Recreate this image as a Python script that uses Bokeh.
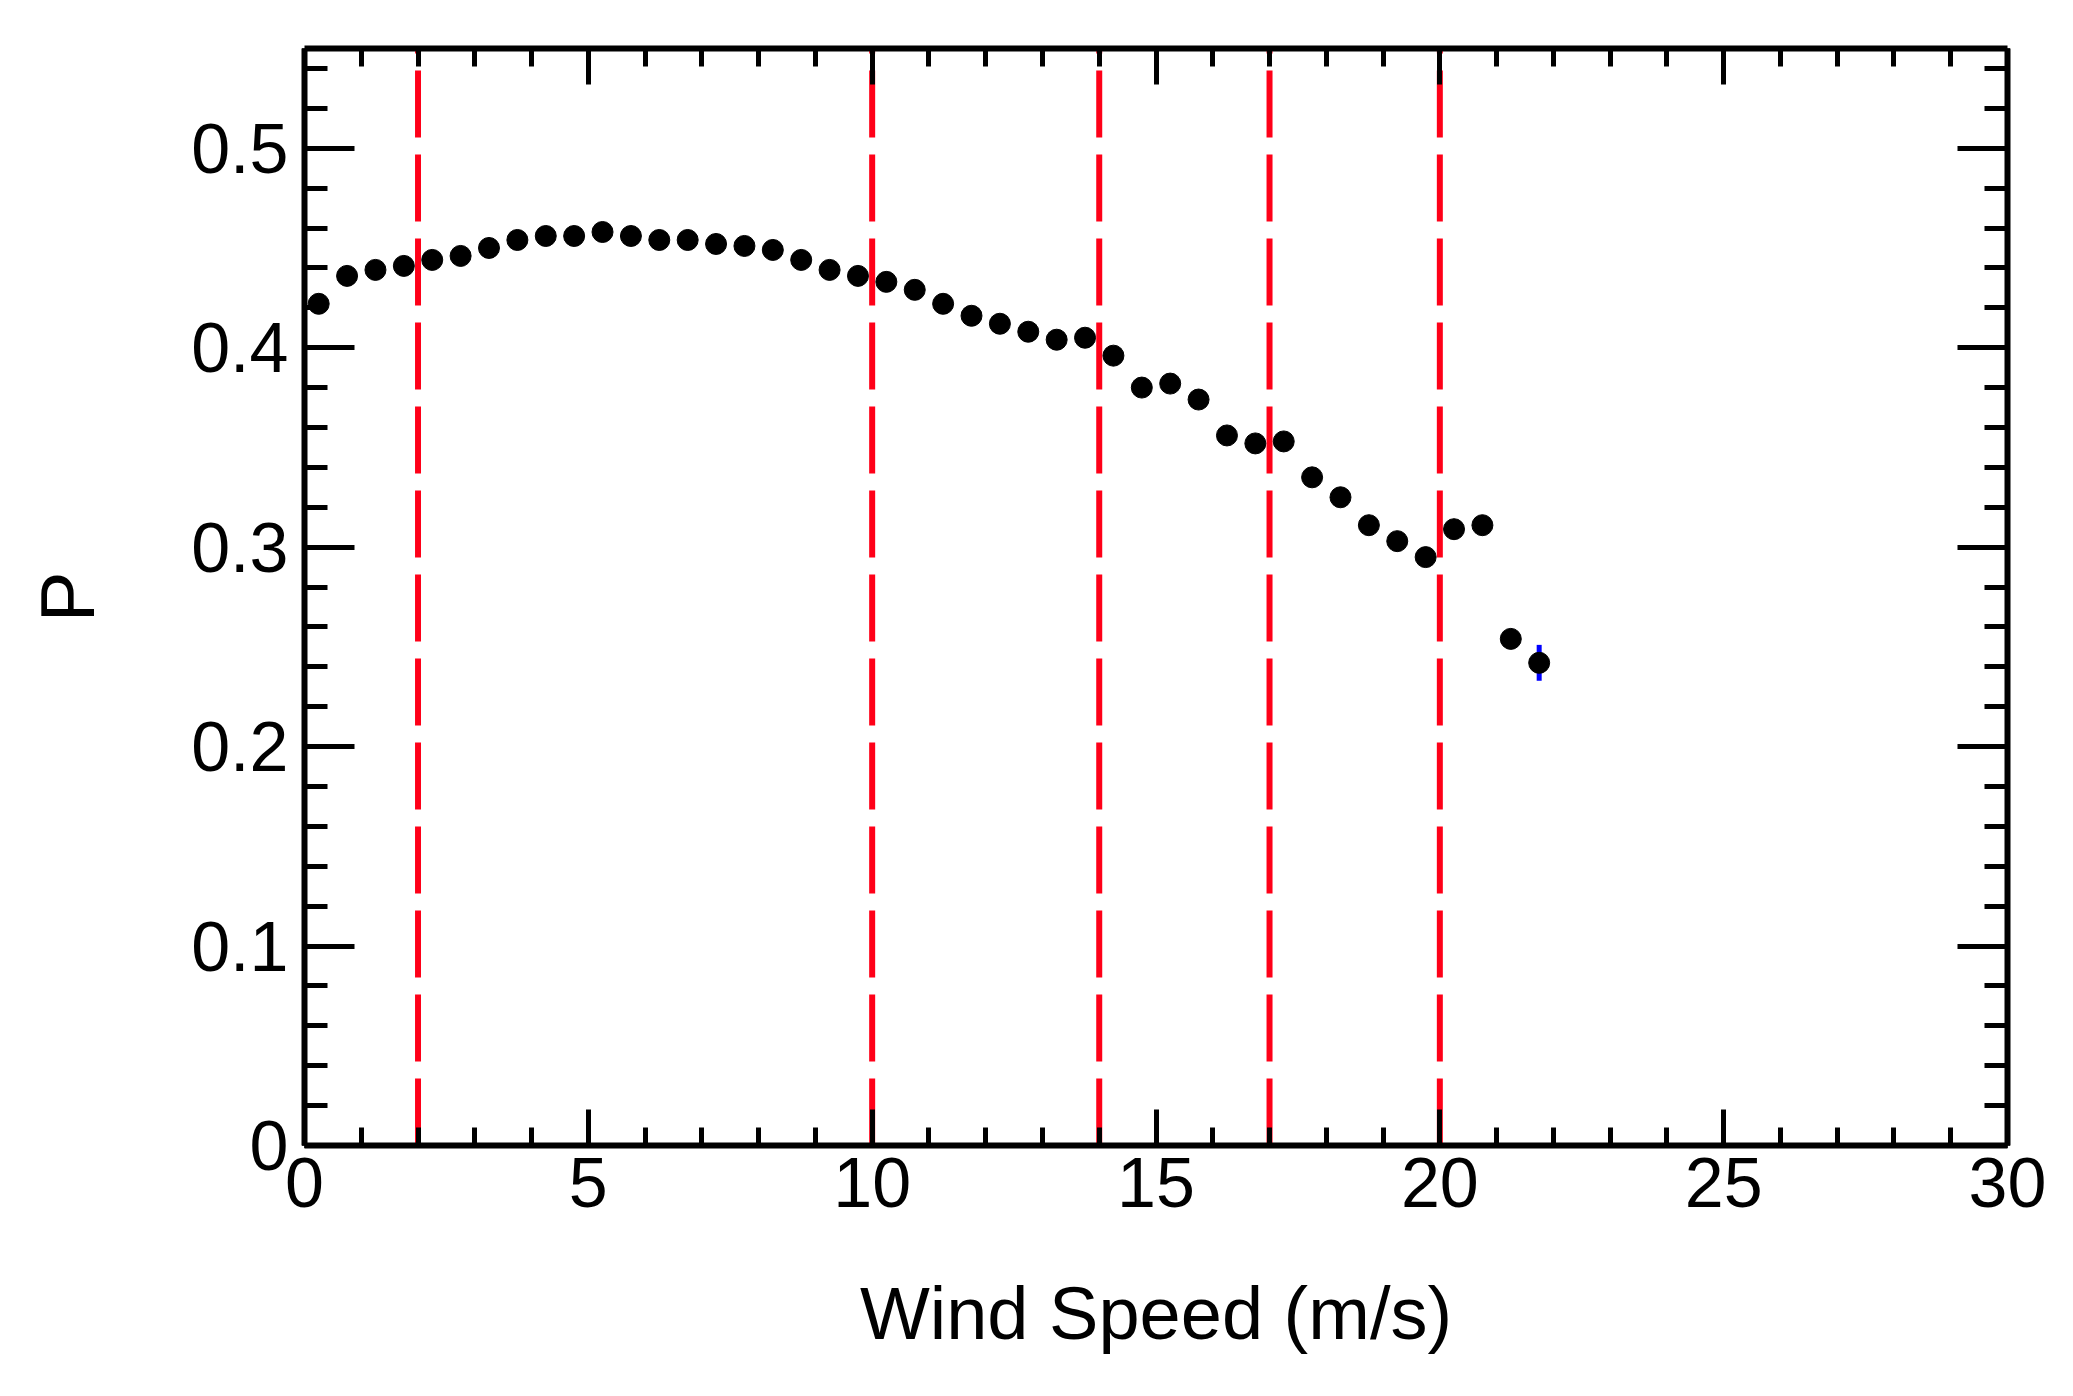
from bokeh.plotting import figure
from bokeh.models import LinearAxis, FixedTicker, Range1d
from bokeh.embed import file_html
from bokeh.resources import INLINE

# ---- data ----
wind_speed = [0.25, 0.75, 1.25, 1.75, 2.25, 2.75, 3.25, 3.75, 4.25, 4.75,
              5.25, 5.75, 6.25, 6.75, 7.25, 7.75, 8.25, 8.75, 9.25, 9.75,
              10.25, 10.75, 11.25, 11.75, 12.25, 12.75, 13.25, 13.75, 14.25, 14.75,
              15.25, 15.75, 16.25, 16.75, 17.25, 17.75, 18.25, 18.75, 19.25, 19.75,
              20.25, 20.75, 21.25, 21.75]
p_values = [0.422, 0.436, 0.439, 0.441, 0.444, 0.446, 0.450, 0.454, 0.456, 0.456,
            0.458, 0.456, 0.454, 0.454, 0.452, 0.451, 0.449, 0.444, 0.439, 0.436,
            0.433, 0.429, 0.422, 0.416, 0.412, 0.408, 0.404, 0.405, 0.396, 0.380,
            0.382, 0.374, 0.356, 0.352, 0.353, 0.335, 0.325, 0.311, 0.303, 0.295,
            0.309, 0.311, 0.254, 0.242]
p_errors = [0.001, 0.001, 0.001, 0.001, 0.001, 0.001, 0.001, 0.001, 0.001, 0.001,
            0.001, 0.001, 0.001, 0.001, 0.001, 0.001, 0.001, 0.001, 0.001, 0.001,
            0.001, 0.001, 0.001, 0.001, 0.002, 0.002, 0.002, 0.002, 0.002, 0.002,
            0.002, 0.002, 0.002, 0.002, 0.003, 0.003, 0.003, 0.003, 0.003, 0.003,
            0.004, 0.004, 0.005, 0.009]
vline_speeds = [2, 10, 14, 17, 20]

x_ticks = [0, 5, 10, 15, 20, 25, 30]
x_tick_labels = ["0", "5", "10", "15", "20", "25", "30"]
x_minor = [i for i in range(0, 31)]
y_ticks = [0.0, 0.1, 0.2, 0.3, 0.4, 0.5]
y_tick_labels = ["0", "0.1", "0.2", "0.3", "0.4", "0.5"]
y_minor = [round(i * 0.02, 2) for i in range(0, 28)]

x_label = "Wind Speed (m/s)"
y_label = "P"

FONT = "Liberation Sans"

p = figure(width=2057, height=1380, output_backend="svg", toolbar_location=None,
           x_range=Range1d(0, 30), y_range=Range1d(0, 0.55),
           min_border_left=304, min_border_right=50,
           min_border_top=48, min_border_bottom=235)
p.xgrid.visible = False
p.ygrid.visible = False
p.outline_line_color = None
p.background_fill_color = "white"
p.border_fill_color = "white"

# red dashed vertical lines (dash pattern starting at the bottom)
p.segment(x0=vline_speeds, y0=[0] * len(vline_speeds),
          x1=vline_speeds, y1=[0.55] * len(vline_speeds),
          line_color="#ff0018", line_width=6, line_dash="67 17")

# error bars
p.segment(x0=wind_speed, y0=[v - e for v, e in zip(p_values, p_errors)],
          x1=wind_speed, y1=[v + e for v, e in zip(p_values, p_errors)],
          line_color="#0000ff", line_width=5)

# points
p.scatter(wind_speed, p_values, size=21, color="black")

xt = FixedTicker(ticks=x_ticks, minor_ticks=x_minor)
yt = FixedTicker(ticks=y_ticks, minor_ticks=y_minor)


def style(ax, tick_major, tick_minor):
    ax.axis_line_color = "black"
    ax.axis_line_width = 6
    ax.major_tick_line_color = "black"
    ax.major_tick_line_width = 5
    ax.minor_tick_line_color = "black"
    ax.minor_tick_line_width = 5
    ax.major_tick_in = tick_major
    ax.major_tick_out = 0
    ax.minor_tick_in = tick_minor
    ax.minor_tick_out = 0
    ax.major_label_text_font = FONT
    ax.major_label_text_color = "black"
    ax.axis_label_text_font = FONT
    ax.axis_label_text_font_style = "normal"
    ax.axis_label_text_color = "black"


xa = p.xaxis[0]
xa.ticker = xt
xa.major_label_overrides = dict(zip(x_ticks, x_tick_labels))
style(xa, 36, 18)
xa.major_label_text_font_size = "70px"
xa.major_label_standoff = 12
xa.axis_label = x_label
xa.axis_label_text_font_size = "74px"
xa.axis_label_standoff = 62

ya = p.yaxis[0]
ya.ticker = yt
ya.major_label_overrides = dict(zip(y_ticks, y_tick_labels))
style(ya, 50, 23)
ya.major_label_text_font_size = "70px"
ya.major_label_standoff = 16
ya.axis_label = y_label
ya.axis_label_text_font_size = "76px"
ya.axis_label_standoff = 78

top = LinearAxis(ticker=FixedTicker(ticks=x_ticks, minor_ticks=x_minor))
style(top, 36, 18)
top.major_label_text_color = None
top.major_label_standoff = 0
p.add_layout(top, "above")

right = LinearAxis(ticker=FixedTicker(ticks=y_ticks, minor_ticks=y_minor))
style(right, 50, 23)
right.major_label_text_color = None
right.major_label_standoff = 0
p.add_layout(right, "right")

open("out.html", "w").write(file_html(p, INLINE))
